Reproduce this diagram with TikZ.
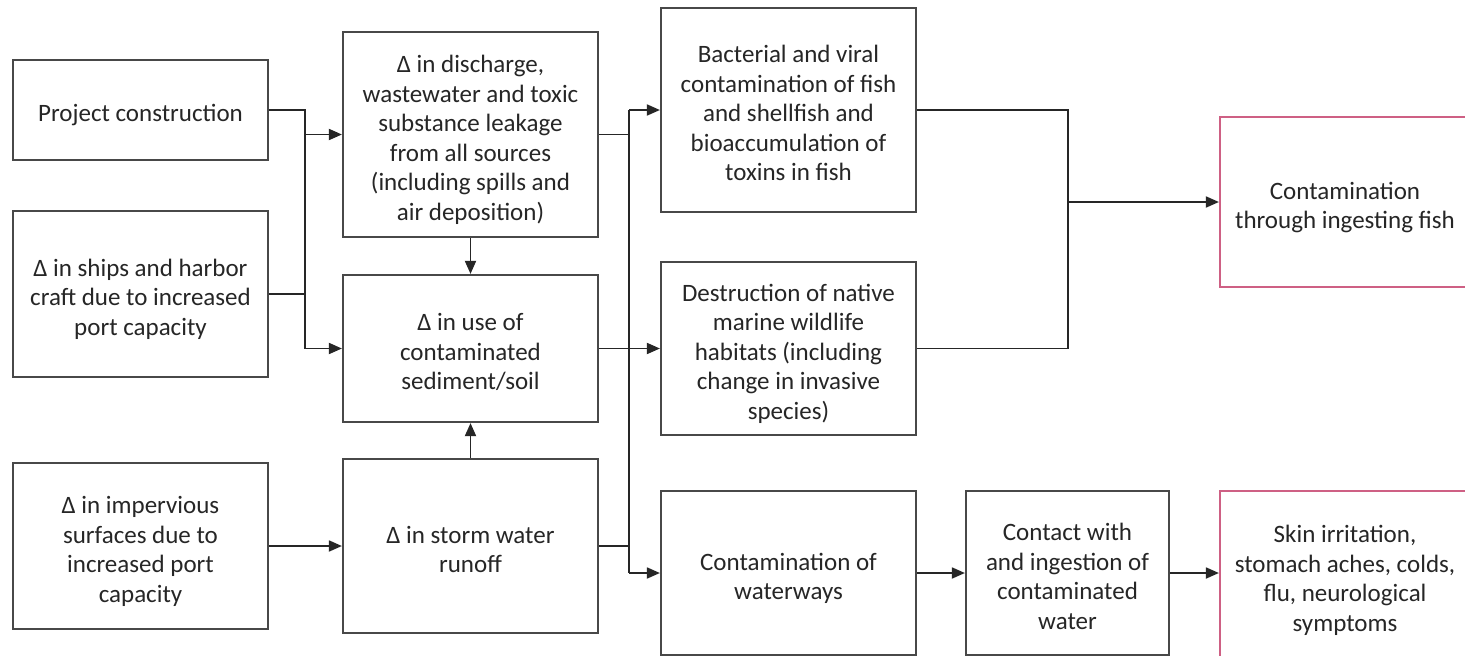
\documentclass[tikz,border=0pt]{standalone}
\usepackage{fontspec}
\setmainfont{Carlito}
\usetikzlibrary{arrows.meta}
\definecolor{boxline}{RGB}{72,72,72}
\definecolor{outline}{RGB}{206,96,132}
% centred lines, set a little below the box centre
\newcommand{\boxlines}[1]{\raisebox{-6pt}[\height][\depth]{\begin{tabular}{@{}c@{}}#1\end{tabular}}}
\tikzset{
  box/.style={draw=boxline, line width=2.2pt, fill=white,
    minimum width=255pt, inner sep=0pt,
    font=\fontsize{25}{29.5}\selectfont, text=black!85},
  outcome/.style={box, draw=outline},
  link/.style={draw=black!85, line width=1.8pt},
  flow/.style={link, -{Triangle[length=13pt,width=11pt]}},
}
\begin{document}
\begin{tikzpicture}[x=1pt,y=-1pt]
\useasboundingbox (0,0) rectangle (1465,656);
\fill[white] (0,0) rectangle (1465,656);
\clip (0,0) rectangle (1465,656);

% left column: sources
\node[box, minimum height=100pt] (A) at (140.5,110) {\boxlines{Project construction}};
\node[box, minimum height=166pt] (B) at (140.5,294) {\boxlines{Δ in ships and harbor\\craft due to increased\\port capacity}};
\node[box, minimum height=166pt] (C) at (140.5,546) {\boxlines{Δ in impervious\\surfaces due to\\increased port\\capacity}};

% second column: changes
\node[box, minimum height=205pt] (D) at (470.5,134.5) {\boxlines{Δ in discharge,\\wastewater and toxic\\substance leakage\\from all sources\\(including spills and\\air deposition)}};
\node[box, minimum height=147pt] (E) at (470.5,348.5) {\boxlines{Δ in use of\\contaminated\\sediment/soil}};
\node[box, minimum height=174pt] (F) at (470.5,546) {\boxlines{Δ in storm water\\runoff}};

% third column: effects
\node[box, minimum height=204pt] (G) at (788.5,110) {\boxlines{Bacterial and viral\\contamination of fish\\and shellfish and\\bioaccumulation of\\toxins in fish}};
\node[box, minimum height=173pt] (H) at (788.5,348.5) {\boxlines{Destruction of native\\marine wildlife\\habitats (including\\change in invasive\\species)}};
\node[box, minimum height=164pt] (I) at (788.5,573) {\boxlines{Contamination of\\waterways}};
\node[box, minimum width=203pt, minimum height=164pt] (J) at (1067.5,573) {\boxlines{Contact with\\and ingestion of\\contaminated\\water}};

% outcomes
\node[outcome, minimum width=250pt, minimum height=170pt] (K) at (1345,202) {\boxlines{Contamination\\through ingesting fish}};
\node[outcome, minimum width=250pt, minimum height=168pt] (L) at (1345,575) {\boxlines{Skin irritation,\\stomach aches, colds,\\flu, neurological\\symptoms}};

% bus lines
\coordinate (bus1) at (305,0);
\coordinate (bus2) at (629,0);
\coordinate (bus3) at (1068,0);

\draw[link] (A.east) -| (bus1 |- E.west);
\draw[link] (B.east) -- (bus1 |- B.east);
\draw[flow] (bus1 |- D.west) -- (D.west);
\draw[flow] (bus1 |- E.west) -- (E.west);
\draw[flow] (C.east) -- (F.west);
\draw[flow] (D.south) -- (E.north);
\draw[flow] (F.north) -- (E.south);

\draw[link] (D.east) -- (bus2 |- D.east);
\draw[link] (F.east) -- (bus2 |- F.east);
\draw[link] (bus2 |- G.west) -- (bus2 |- I.west);
\draw[flow] (bus2 |- G.west) -- (G.west);
\draw[flow] (E.east) -- (H.west);
\draw[flow] (bus2 |- I.west) -- (I.west);

\draw[link] (G.east) -| (bus3 |- H.east) -- (H.east);
\draw[flow] (bus3 |- K.west) -- (K.west);

\draw[flow] (I.east) -- (I.east -| J.west);
\draw[flow] (J.east) -- (J.east -| L.west);
\end{tikzpicture}
\end{document}
